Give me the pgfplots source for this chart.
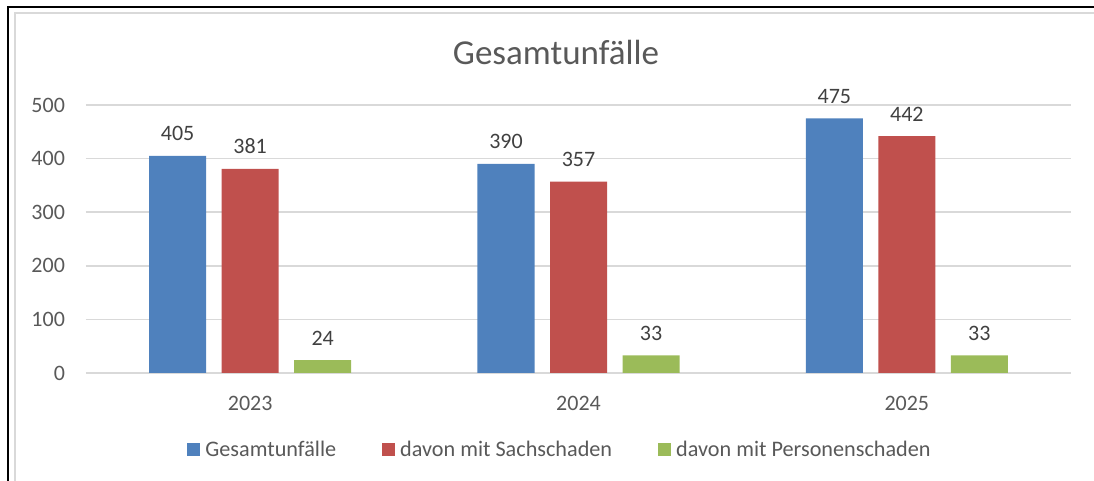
\documentclass[border=0pt]{standalone}
\usepackage{pgfplots}
\pgfplotsset{compat=1.18}
\usepackage{fontspec}
\setmainfont{Carlito}
\definecolor{cblue}{HTML}{4F81BD}
\definecolor{cred}{HTML}{C0504D}
\definecolor{cgreen}{HTML}{9BBB59}
\definecolor{cgrid}{HTML}{D9D9D9}
\definecolor{ctext}{HTML}{595959}
\definecolor{clabel}{HTML}{404040}
\begin{document}
\begin{tikzpicture}
\useasboundingbox (-43pt,-54pt) rectangle (504pt,186.5pt);
\begin{axis}[
  at={(0pt,0pt)}, anchor=south west,
  scale only axis, width=492.5pt, height=134pt,
  xmin=-0.5, xmax=2.5, ymin=0, ymax=500,
  ytick={0,100,...,500},
  xtick={0,1,2}, xticklabels={2023,2024,2025},
  axis line style={draw=none},
  major tick length=0pt,
  ymajorgrids, grid style={cgrid, line width=0.8pt},
  /pgf/number format/assume math mode=true,
  tick label style={font=\fontsize{11}{13}\selectfont, text=ctext},
  yticklabel style={xshift=-7pt},
  xticklabel style={yshift=-8pt},
  ybar, bar width=28.5pt,
  nodes near coords,
  every node near coord/.append style={font=\fontsize{11}{13}\selectfont, text=clabel, yshift=4pt},
  legend style={at={(237.5pt,-38.5pt)}, anchor=center, draw=none, legend columns=-1,
    font=\fontsize{11.1}{13}\selectfont, text=ctext,
    /tikz/every even column/.append style={column sep=21pt},
    /tikz/every odd column/.append style={column sep=0.5pt}},
  legend image code/.code={\fill[#1] (0pt,-3pt) rectangle (6.5pt,3.5pt);},
]
\addplot[fill=cblue, draw=none, bar shift=-36.25pt] coordinates {(0,405) (1,390) (2,475)};
\addplot[fill=cred, draw=none, bar shift=0pt] coordinates {(0,381) (1,357) (2,442)};
\addplot[fill=cgreen, draw=none, bar shift=36.25pt] coordinates {(0,24) (1,33) (2,33)};
\legend{Gesamtunfälle, davon mit Sachschaden, davon mit Personenschaden}
\end{axis}
\node[font=\fontsize{17.5}{20}\selectfont, text=ctext] at (235pt,160.5pt) {Gesamtunfälle};
\draw[black, line width=1pt] (-39pt,-54pt) -- (-39pt,183pt) -- (504pt,183pt);
\draw[cgrid, line width=0.8pt] (-35.5pt,-54pt) -- (-35.5pt,180pt) -- (504pt,180pt);
\end{tikzpicture}
\end{document}
